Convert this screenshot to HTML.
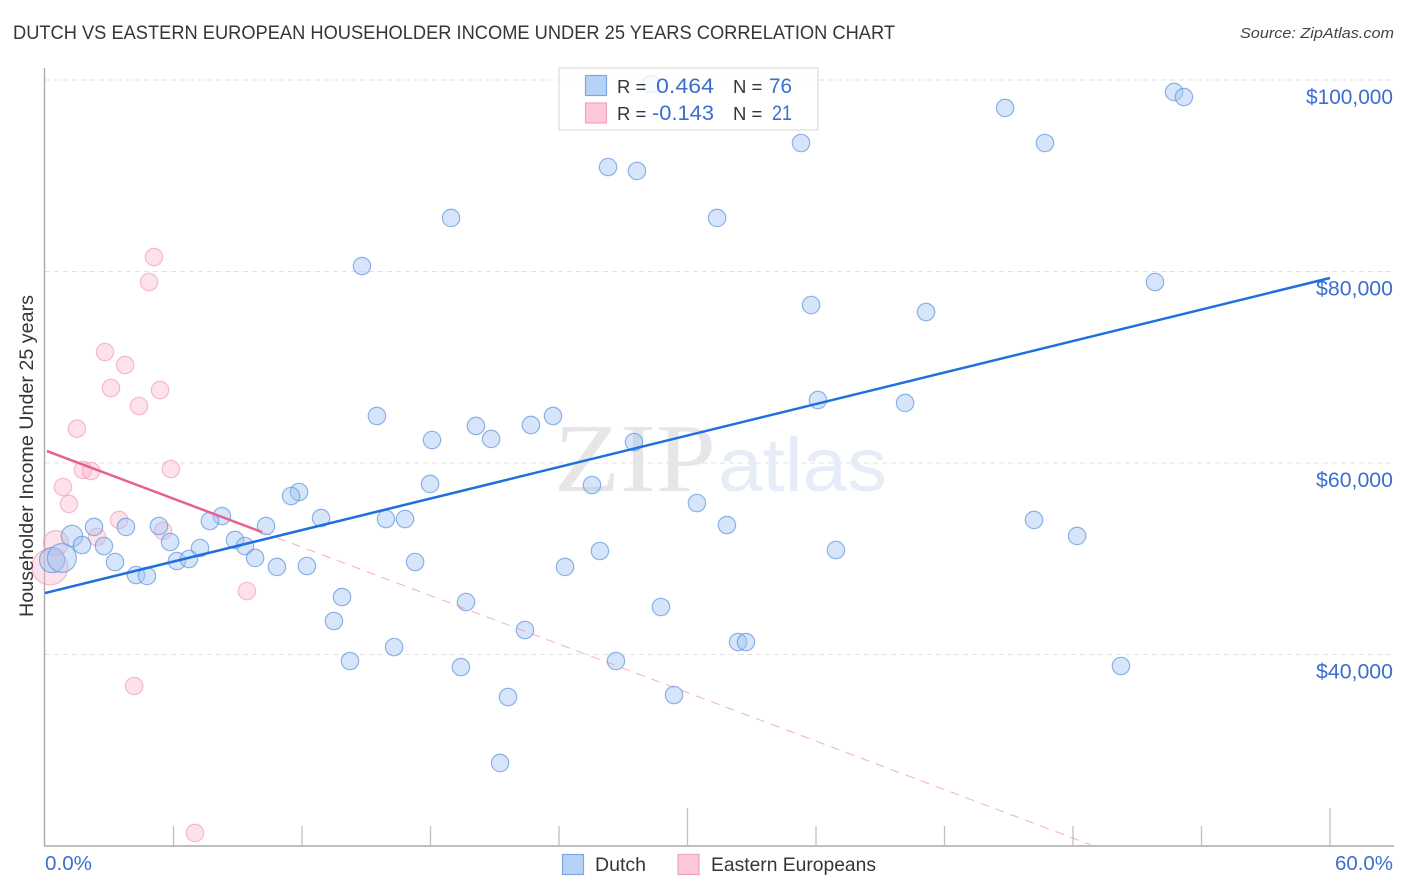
<!DOCTYPE html>
<html lang="en">
<head>
<meta charset="utf-8">
<title>Dutch vs Eastern European Householder Income Under 25 Years Correlation Chart</title>
<style>
html,body{margin:0;padding:0;background:#fff;width:1406px;height:892px;overflow:hidden}
svg{display:block;font-family:"Liberation Sans",sans-serif}
</style>
</head>
<body>
<svg id="chart" xmlns="http://www.w3.org/2000/svg" width="1406" height="892" viewBox="0 0 1406 892">
  <rect width="1406" height="892" fill="#fff"/>
  <text x="13" y="39" font-size="19.5" fill="#35353d" textLength="882" lengthAdjust="spacingAndGlyphs">DUTCH VS EASTERN EUROPEAN HOUSEHOLDER INCOME UNDER 25 YEARS CORRELATION CHART</text>
  <text x="1394" y="38" font-size="15" font-style="italic" fill="#444" text-anchor="end" textLength="154" lengthAdjust="spacingAndGlyphs">Source: ZipAtlas.com</text>
  <g id="grid"></g>
  <g>
    <text x="554" y="491" font-family="'Liberation Serif',serif" font-size="98" fill="#e6e6e8" textLength="162" lengthAdjust="spacingAndGlyphs">ZIP</text>
    <text x="718" y="491" font-size="76" fill="#e6edf9" textLength="169" lengthAdjust="spacingAndGlyphs">atlas</text>
  </g>
  <g id="axes">
    <line x1="44.5" y1="68" x2="44.5" y2="846" stroke="#aaa" stroke-width="1.4"/>
    <line x1="44" y1="846" x2="1394" y2="846" stroke="#aaa" stroke-width="1.4"/>
  </g>
  <g id="points-eastern"></g>
  <g id="points-dutch"></g>
  <g id="trends"></g>
  <g id="ylabels"></g>
  <text transform="translate(33,456) rotate(-90)" font-size="19.5" fill="#35353d" text-anchor="middle" textLength="322" lengthAdjust="spacingAndGlyphs">Householder Income Under 25 years</text>
  <text x="45" y="870" font-size="20" fill="#3a6fd0" textLength="47" lengthAdjust="spacingAndGlyphs">0.0%</text>
  <text x="1393" y="870" font-size="20" fill="#3a6fd0" text-anchor="end" textLength="58" lengthAdjust="spacingAndGlyphs">60.0%</text>

  <g>
    <rect x="559" y="68" width="259" height="62" fill="#fff" fill-opacity="0.8" stroke="#dcdcdc" stroke-width="1.2"/>
    <rect x="585.5" y="75.5" width="21" height="20" fill="#b6d2f6" stroke="#7ea6e0" stroke-width="1.2"/>
    <rect x="585.5" y="103" width="21" height="20" fill="#fdc8d8" stroke="#f0a4bc" stroke-width="1.2"/>
    <text x="617" y="93" font-size="18.5" fill="#35353d">R =</text>
    <text x="714" y="93" font-size="21.5" fill="#3a6fd0" text-anchor="end" textLength="58" lengthAdjust="spacingAndGlyphs">0.464</text>
    <text x="733" y="93" font-size="18.5" fill="#35353d">N =</text>
    <text x="792" y="93" font-size="21.5" fill="#3a6fd0" text-anchor="end" textLength="23" lengthAdjust="spacingAndGlyphs">76</text>
    <text x="617" y="120" font-size="18.5" fill="#35353d">R =</text>
    <text x="714" y="120" font-size="21.5" fill="#3a6fd0" text-anchor="end" textLength="62" lengthAdjust="spacingAndGlyphs">-0.143</text>
    <text x="733" y="120" font-size="18.5" fill="#35353d">N =</text>
    <text x="792" y="120" font-size="21.5" fill="#3a6fd0" text-anchor="end" textLength="20" lengthAdjust="spacingAndGlyphs">21</text>
  </g>

  <g>
    <rect x="562.5" y="854.5" width="21" height="20" fill="#b6d2f6" stroke="#7ea6e0" stroke-width="1.2"/>
    <text x="595" y="871" font-size="19.5" fill="#35353d" textLength="51" lengthAdjust="spacingAndGlyphs">Dutch</text>
    <rect x="678" y="854.5" width="21" height="20" fill="#fdc8d8" stroke="#f0a4bc" stroke-width="1.2"/>
    <text x="711" y="871" font-size="19.5" fill="#35353d" textLength="165" lengthAdjust="spacingAndGlyphs">Eastern Europeans</text>
  </g>
</svg>
<script>
const dutchX = [28.30,52.72,53.18,44.83,35.30,46.69,26.29,27.64,18.96,31.38,14.80,51.83,35.77,41.14,36.09,40.16,15.50,23.72,20.12,22.69,20.83,18.07,27.50,25.54,17.98,11.86,11.49,30.44,8.26,7.70,12.89,15.92,16.81,46.18,31.84,5.32,10.32,2.29,3.78,1.26,48.19,8.87,1.73,2.75,5.84,9.34,7.24,25.91,36.93,9.81,6.16,6.72,3.27,17.28,10.83,12.23,24.28,4.25,4.76,0.33,0.79,13.87,19.66,28.76,13.49,22.41,32.36,32.73,16.30,14.24,26.66,19.42,50.24,29.37,21.62,21.25];
const dutchY = [99580,98750,98220,97080,93420,93420,90910,90500,85590,85590,80570,78900,76500,75770,66580,66270,64910,64910,63870,63970,62510,62400,62190,57700,57810,56970,56550,55820,54460,53940,54250,54150,54150,54050,53520,53420,53420,53320,53320,52380,52380,51960,51430,51330,51750,51330,51120,50810,50910,50080,49760,49970,49660,49660,49140,49240,49140,48300,48200,49870,50080,46000,45480,44960,43500,42560,41300,41300,40780,39320,39320,38690,38800,35770,35560,28670];
const dutchWeight = [1,1,1,1,1,1,1,1,1,1,1,1,1,1,1,1,1,1,1,1,1,1,1,1,1,1,1,1,1,1,1,1,1,1,1,1,1,1,1,2,1,1,1,1,1,1,1,1,1,1,1,1,1,1,1,1,1,1,1,3,4,1,1,1,1,1,1,1,1,1,1,1,1,1,1,1];
const easternX = [5.09,4.86,2.80,3.74,3.08,5.37,4.39,1.49,1.77,2.15,5.88,0.84,1.12,3.46,5.51,2.43,0.51,0.23,9.43,4.16,7.00];
const easternY = [81510,78900,71590,70230,67830,67620,65950,63580,59270,59160,59370,57490,55720,54050,52900,52270,51640,49140,46630,36710,21360];
const easternWeight = [1,1,1,1,1,1,1,1,1,1,1,1,1,1,1,1,3,6,1,1,1];
const yTicks = [100000,80000,60000,40000];
const yTickLabels = ["$100,000","$80,000","$60,000","$40,000"];
const xTicks = [0,6,12,18,24,30,36,42,48,54,60];
const xMajorTicks = [30,60];
const dutchTrendX = [0,60];
const dutchTrendY = [46420,79320];
const easternSolidX = [0.09,10.13];
const easternSolidY = [61250,52790];
const easternDashX = [10.13,48.80];
const easternDashY = [52790,20150];

const svgNS = 'http://www.w3.org/2000/svg';
const sx = v => 45 + v / 60 * 1285;
const sy = v => 80 + (100000 - v) / 20000 * 191.5;
const sr = w => 7.5 + Math.sqrt(w) * 1.2 + (w > 1 ? (w - 1) * 1.5 : 0);
function mk(tag, parent, attrs) {
  const el = document.createElementNS(svgNS, tag);
  for (const k in attrs) el.setAttribute(k, attrs[k]);
  parent.appendChild(el);
  return el;
}
const grid = document.getElementById('grid');
yTicks.forEach(t => {
  const el = mk('line', grid, {x1: 45, x2: 1393, y1: sy(t), y2: sy(t), stroke: '#e2e2e2', 'stroke-width': 1, 'stroke-dasharray': '5 4'});
  
  
});
const axes = document.getElementById('axes');
xTicks.forEach(t => {
  if (t === 0) return;
  const top = xMajorTicks.includes(t) ? 808 : 826;
  const el = mk('line', axes, {x1: sx(t), x2: sx(t), y1: top, y2: 846, stroke: '#c0c0c0', 'stroke-width': 1.3});
  
  
});
const yl = document.getElementById('ylabels');
yTicks.forEach((t, i) => {
  const el = mk('text', yl, {x: 1393, y: sy(t) + 24, 'text-anchor': 'end', 'font-size': 21, fill: '#3a6fd0', textLength: yTickLabels[i].length === 8 ? 87 : 77, lengthAdjust: 'spacingAndGlyphs'});
  
  
  el.textContent = yTickLabels[i];
});
const gE = document.getElementById('points-eastern');
easternX.forEach((x, i) => {
  const el = mk('circle', gE, {cx: sx(x), cy: sy(easternY[i]), r: sr(easternWeight[i]), fill: '#fbb4ca', 'fill-opacity': 0.38, stroke: '#f291b0', 'stroke-opacity': 0.6, 'stroke-width': 1.2});
  
  
});
const gD = document.getElementById('points-dutch');
dutchX.forEach((x, i) => {
  const el = mk('circle', gD, {cx: sx(x), cy: sy(dutchY[i]), r: sr(dutchWeight[i]), fill: '#a5c6f2', 'fill-opacity': 0.45, stroke: '#5b92dd', 'stroke-opacity': 0.68, 'stroke-width': 1.2});
  
  
});
const tr = document.getElementById('trends');
const dashTrend = mk('line', tr, {x1: sx(easternDashX[0]), y1: sy(easternDashY[0]), x2: sx(easternDashX[1]), y2: sy(easternDashY[1]), stroke: '#ee7fa4', 'stroke-width': 1, 'stroke-dasharray': '9 7', 'stroke-opacity': 0.65});


const solidTrend = mk('line', tr, {x1: sx(easternSolidX[0]), y1: sy(easternSolidY[0]), x2: sx(easternSolidX[1]), y2: sy(easternSolidY[1]), stroke: '#e8608c', 'stroke-width': 2.5});


const blueTrend = mk('line', tr, {x1: sx(dutchTrendX[0]), y1: sy(dutchTrendY[0]), x2: sx(dutchTrendX[1]), y2: sy(dutchTrendY[1]), stroke: '#1f6fdc', 'stroke-width': 2.5});


</script>
</body>
</html>
